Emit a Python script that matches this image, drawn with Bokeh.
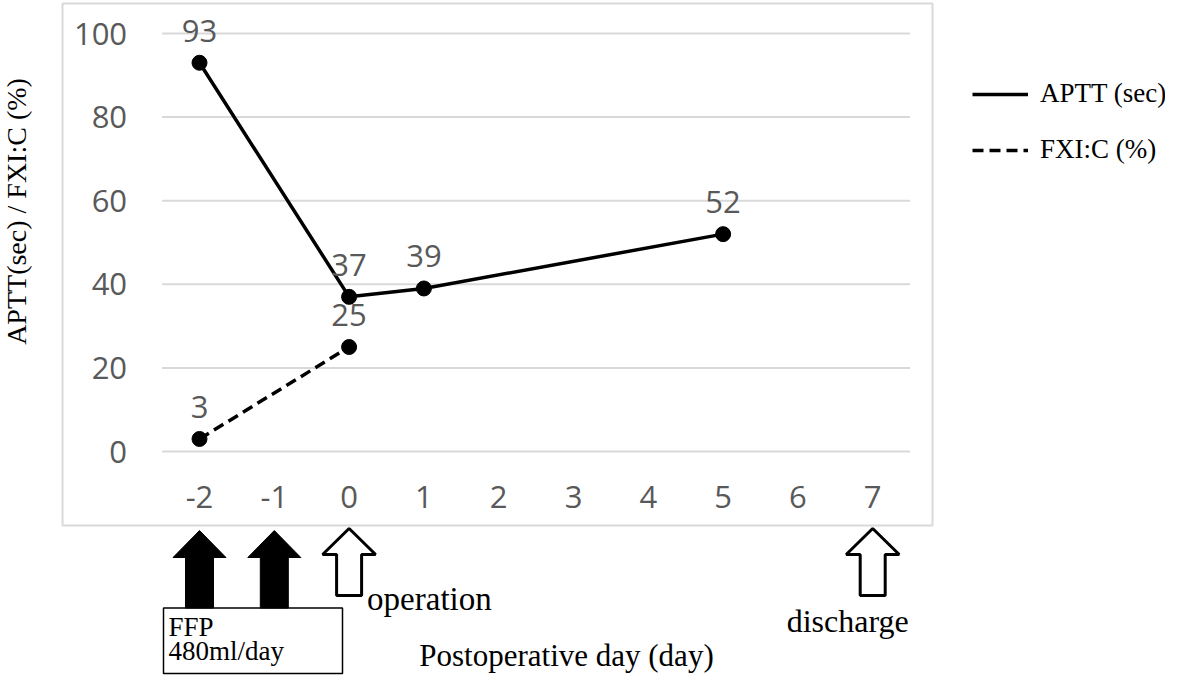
from math import pi
from bokeh.plotting import figure
from bokeh.models import (Range1d, FixedTicker, ColumnDataSource, LabelSet, Label,
                          PolyAnnotation, BoxAnnotation, Legend, LegendItem)
from bokeh.core.properties import value
from bokeh.embed import file_html
from bokeh.resources import INLINE

# ---------------- data ----------------
days = [-2, -1, 0, 1, 2, 3, 4, 5, 6, 7]
x_tick_labels = ["-2", "-1", "0", "1", "2", "3", "4", "5", "6", "7"]
y_ticks = [0, 20, 40, 60, 80, 100]

aptt_days = [-2, 0, 1, 5]
aptt_values = [93, 37, 39, 52]
fxi_days = [-2, 0]
fxi_values = [3, 25]

ffp_days = [-2, -1]
event_days = [0, 7]
event_labels = ["operation", "discharge"]
ffp_lines = ["FFP", "480ml/day"]

y_title = "APTT(sec) / FXI:C (%)"
x_title = "Postoperative day (day)"
series_names = ["APTT (sec)", "FXI:C (%)"]

# ---------------- layout (pixel geometry) ----------------
W, H = 1165, 675
SX = 74.8            # px per day
SY = 4.18            # px per unit
CX_M2 = 199          # pixel x of day -2
CY_100 = 33          # pixel y of value 100
XS = -2 - CX_M2 / SX
XE = XS + W / SX
YT = 100 + CY_100 / SY
YB = YT - H / SY
XMIN, XMAX = -2.5, 7.5   # extent of the plotting area in days


def xd(cx):
    return XS + cx / SX


def yd(cy):
    return YT - cy / SY


GREY = "#595959"
SANS = "Open Sans"
SERIF = "Liberation Serif"

p = figure(width=W, height=H, x_range=Range1d(XS, XE), y_range=Range1d(YB, YT),
           output_backend="svg", toolbar_location=None,
           min_border_left=0, min_border_right=0,
           min_border_top=0, min_border_bottom=0)
p.outline_line_color = None
p.background_fill_color = "white"
p.border_fill_color = "white"

# grid (limited to the plotting area)
p.xgrid.visible = False
p.ygrid.visible = False
p.segment(x0=[XMIN] * len(y_ticks), x1=[XMAX] * len(y_ticks), y0=y_ticks, y1=y_ticks,
          line_color="#d9d9d9", line_width=2)

# axes (drawn inside the chart area)
p.xaxis.ticker = FixedTicker(ticks=days)
p.xaxis.major_label_overrides = {d: lab for d, lab in zip(days, x_tick_labels)}
p.xaxis.fixed_location = 0
p.yaxis.ticker = FixedTicker(ticks=y_ticks)
p.yaxis.fixed_location = XMIN
for ax in (p.xaxis, p.yaxis):
    ax.axis_line_color = None
    ax.major_tick_line_color = None
    ax.minor_tick_line_color = None
    ax.major_tick_out = 0
    ax.major_tick_in = 0
    ax.major_label_text_font = SANS
    ax.major_label_text_font_size = "31px"
    ax.major_label_text_color = GREY
p.xaxis.major_label_standoff = 34
p.yaxis.major_label_standoff = 35

# outer chart border
p.add_layout(BoxAnnotation(left=xd(62), right=xd(932), top=yd(3), bottom=yd(525),
                           fill_alpha=0, line_color="#d9d9d9", line_alpha=1,
                           line_width=2))

# series
aptt_src = ColumnDataSource(dict(x=aptt_days, y=aptt_values,
                                 t=[str(v) for v in aptt_values]))
fxi_src = ColumnDataSource(dict(x=fxi_days, y=fxi_values,
                                t=[str(v) for v in fxi_values]))

r_aptt = p.line("x", "y", source=aptt_src, line_color="black", line_width=3.5)
r_fxi = p.line("x", "y", source=fxi_src, line_color="black", line_width=3.5,
               line_dash="11 6")
p.scatter("x", "y", source=aptt_src, size=15, color="black")
p.scatter("x", "y", source=fxi_src, size=15, color="black")

for src in (aptt_src, fxi_src):
    p.add_layout(LabelSet(x="x", y="y", text="t", source=src, y_offset=32,
                          text_align="center", text_baseline="middle",
                          text_font=value(SANS), text_font_size=value("31px"),
                          text_color=GREY))


# arrows
def arrow(d, tip, base, bottom, shaft_px, filled):
    hw, sw = 26.5 / SX, shaft_px / SX
    xs = [d, d + hw, d + sw, d + sw, d - sw, d - sw, d - hw]
    ys = [yd(tip), yd(base), yd(base), yd(bottom), yd(bottom), yd(base), yd(base)]
    return PolyAnnotation(xs=xs, ys=ys,
                          fill_color="black" if filled else "white",
                          fill_alpha=1, line_color="black", line_alpha=1,
                          line_width=1 if filled else 3)


for d in ffp_days:
    p.add_layout(arrow(d, 530, 557, 607.5, 14, True))
for d in event_days:
    p.add_layout(arrow(d, 528, 554, 595, 12.5, False))

# FFP box
p.add_layout(BoxAnnotation(left=xd(163), right=xd(342), top=yd(607.5), bottom=yd(673),
                           fill_alpha=0, line_color="black", line_alpha=1,
                           line_width=1.5))
for txt, cy in zip(ffp_lines, [626, 650]):
    p.add_layout(Label(x=xd(168), y=yd(cy), text=txt, text_font=SERIF,
                       text_font_size="27px", text_color="black",
                       text_align="left", text_baseline="alphabetic"))

# event labels
p.add_layout(Label(x=event_days[0], y=yd(598), x_offset=18, text=event_labels[0],
                   text_font=SERIF, text_font_size="33px", text_color="black",
                   text_align="left", text_baseline="alphabetic"))
p.add_layout(Label(x=event_days[1], y=yd(620), x_offset=-25, text=event_labels[1],
                   text_font=SERIF, text_font_size="32px", text_color="black",
                   text_align="center", text_baseline="alphabetic"))

# axis titles
p.add_layout(Label(x=xd(566), y=yd(655), text=x_title, text_font=SERIF,
                   text_font_size="31px", text_color="black",
                   text_align="center", text_baseline="alphabetic"))
p.add_layout(Label(x=xd(16), y=yd(211), text=y_title, angle=pi / 2, text_font=SERIF,
                   text_font_size="28px", text_color="black",
                   text_align="center", text_baseline="middle"))

# legend
legend = Legend(items=[LegendItem(label=series_names[0], renderers=[r_aptt]),
                       LegendItem(label=series_names[1], renderers=[r_fxi])],
                location=(972, 510), orientation="vertical",
                glyph_width=56, glyph_height=30, label_height=30,
                label_standoff=12, spacing=25, padding=0, margin=0,
                border_line_color=None, background_fill_alpha=0,
                label_text_font=SERIF, label_text_font_size="27px",
                label_text_color="black")
p.add_layout(legend)

open("out.html", "w").write(file_html(p, INLINE))
